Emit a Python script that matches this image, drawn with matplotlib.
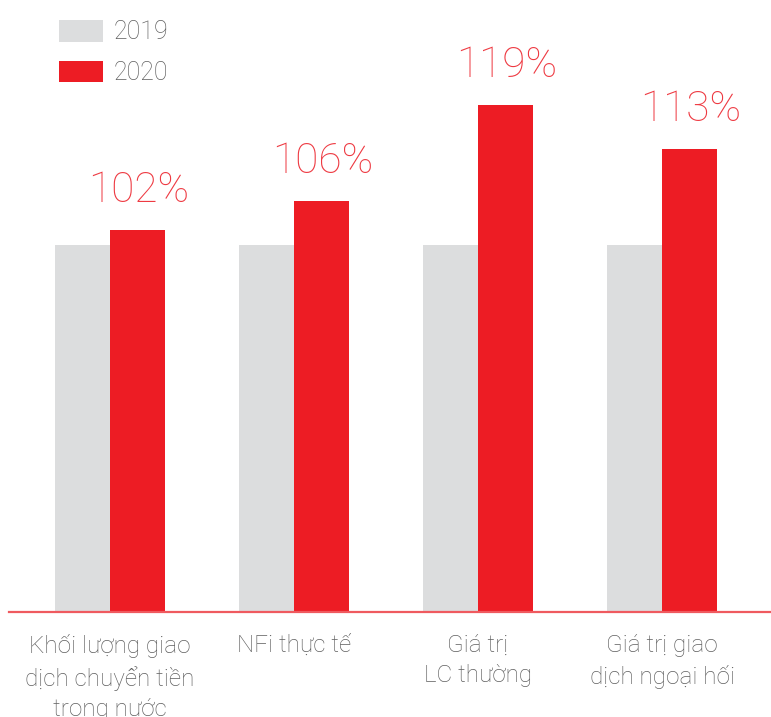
import numpy as np
import matplotlib
matplotlib.use("Agg")
import matplotlib.pyplot as plt
from matplotlib.patches import Patch

# du lieu
categories = ["Khối lượng giao\ndịch chuyển tiền\ntrong nước",
              "NFi thực tế",
              "Giá trị\nLC thường",
              "Giá trị giao\ndịch ngoại hối"]
v2019 = [100, 100, 100, 100]
v2020 = [102, 106, 119, 113]
labels_2020 = ["102%", "106%", "119%", "113%"]
series_names = ["2019", "2020"]

c_gray = "#DCDDDE"
c_red = "#ED1C24"
c_text = "#5F5F5F"

plt.rcParams['font.family'] = ['Roboto', 'DejaVu Sans']

fig = plt.figure(figsize=(7.71, 7.17), dpi=100)
ax = fig.add_axes([9 / 771, 105 / 717, 1 - 9 / 771, 612 / 717])

x = np.arange(len(categories))
w = 0.30
ax.bar(x - w / 2, v2019, w, color=c_gray, label=series_names[0])
ax.bar(x + w / 2, v2020, w, color=c_red, label=series_names[1])

for xi, v, t in zip(x, v2020, labels_2020):
    ax.annotate(t, (xi + w / 2, v), xytext=(1, 20), textcoords="offset points",
                ha="center", va="baseline", fontsize=30.5, color="#EE3A42",
                fontweight="light")

ax.set_xlim(-0.549, 3.592)
ax.set_ylim(50.0, 133.3)

for s in ["top", "right", "left"]:
    ax.spines[s].set_visible(False)
ax.spines["bottom"].set_color("#EF5A5F")
ax.spines["bottom"].set_linewidth(1.6)
ax.set_yticks([])
ax.set_xticks(x)
ax.set_xticklabels(categories, fontsize=17.5, color=c_text, fontweight="light",
                   linespacing=1.4, va="top")
ax.tick_params(axis="x", length=0, pad=16)

handles = [Patch(facecolor=c_gray, edgecolor="none"),
           Patch(facecolor=c_red, edgecolor="none")]
leg = fig.legend(handles, series_names, loc="upper left",
                 bbox_to_anchor=(39 / 771, 1), frameon=False,
                 fontsize=18, handlelength=1.75, handleheight=0.95,
                 handletextpad=0.45, labelspacing=0.65, borderpad=0.3)
for t in leg.get_texts():
    t.set_color(c_text)
    t.set_fontweight("light")

fig.savefig("out.png", dpi=100)
